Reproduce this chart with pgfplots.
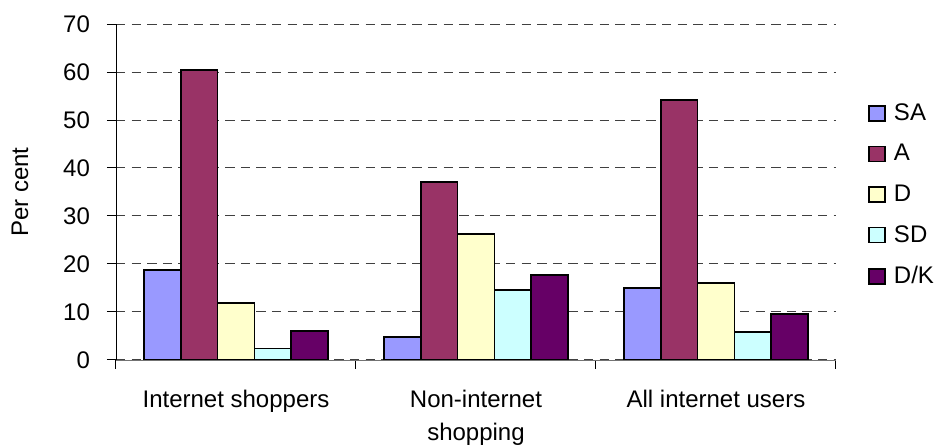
\documentclass[border=0pt]{standalone}
\usepackage{fontspec}
\setmainfont{Liberation Sans}
\usepackage{pgfplots}
\pgfplotsset{compat=1.18}

\definecolor{cSA}{HTML}{9999FF}
\definecolor{cA}{HTML}{993366}
\definecolor{cD}{HTML}{FFFFCC}
\definecolor{cSD}{HTML}{CCFFFF}
\definecolor{cDK}{HTML}{660066}

\pgfplotsset{
  catbar/.style={
    fill=#1, draw=black, line width=0.9pt,
    legend image code/.code={\draw[fill=#1,draw=black,line width=0.8pt] (0pt,-3.75pt) rectangle (8pt,3.75pt);}
  }
}

\begin{document}
\begin{tikzpicture}
\useasboundingbox (-58pt,-44pt) rectangle (411.5pt,180pt);
\begin{axis}[
  at={(0,0)}, anchor=south west,
  scale only axis,
  width=360pt, height=168pt,
  font=\fontsize{12}{16.5}\selectfont,
  /pgf/number format/assume math mode=true,
  ybar=0pt,
  bar width=0.1537,
  xmin=-0.5, xmax=2.5,
  ymin=0, ymax=70,
  ytick distance=10,
  axis lines*=left,
  x axis line style={draw=black!55},
  y axis line style={draw=black},
  tick align=outside,
  major tick length=4.5pt,
  tick style={draw=black, line width=0.5pt},
  xtick={-0.5,0.5,1.5,2.5},
  xticklabels={},
  extra x ticks={0,1,2},
  extra x tick labels={Internet shoppers,{Non-internet\\shopping},All internet users},
  extra x tick style={major tick length=0pt, grid=none,
    tick label style={align=center, yshift=-11.5pt}},
  ymajorgrids,
  grid style={draw=black!75, line width=0.5pt, dash pattern=on 4.7pt off 3.1pt},
  ylabel={Per cent},
  ylabel style={at={(axis description cs:-0.1333,0.5)}, anchor=center},
  yticklabel style={xshift=-5pt},
  legend style={
    draw=none, fill=none,
    at={(rel axis cs:1,0.5)}, anchor=west, xshift=13pt, yshift=-1.5pt,
    legend cell align=left,
    row sep=6.5pt,
    /tikz/every odd column/.style={column sep=2pt},
    font=\fontsize{12}{13}\selectfont,
  },
]
\addplot[catbar=cSA] coordinates {(0,18.7) (1,4.8) (2,15.0)};
\addplot[catbar=cA]  coordinates {(0,60.5) (1,37.1) (2,54.1)};
\addplot[catbar=cD]  coordinates {(0,11.9) (1,26.2) (2,16.0)};
\addplot[catbar=cSD] coordinates {(0,2.4) (1,14.6) (2,5.8)};
\addplot[catbar=cDK] coordinates {(0,6.1) (1,17.7) (2,9.6)};
\legend{SA,A,D,SD,D/K}
\end{axis}
\end{tikzpicture}
\end{document}
